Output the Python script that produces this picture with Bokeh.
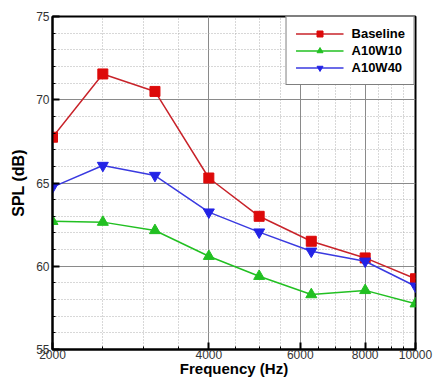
from bokeh.plotting import figure
from bokeh.models import FixedTicker, Legend, LegendItem, Range1d
from bokeh.embed import file_html
from bokeh.resources import INLINE

freq = [2000, 2500, 3150, 4000, 5000, 6300, 8000, 10000]
baseline = [67.75, 71.55, 70.5, 65.3, 63.0, 61.5, 60.5, 59.25]
a10w10 = [62.7, 62.65, 62.15, 60.6, 59.4, 58.3, 58.55, 57.75]
a10w40 = [64.75, 66.05, 65.45, 63.25, 62.05, 60.9, 60.3, 58.8]

x_ticks = [2000, 4000, 6000, 8000, 10000]
x_minor = [2500, 3000, 3500, 4500, 5000, 5500, 6500, 7000, 7500, 8500, 9000, 9500]
y_ticks = [55, 60, 65, 70, 75]
y_minor = [v for v in range(56, 75) if v % 5 != 0]

FONT = "Liberation Sans"

p = figure(width=433, height=379, x_axis_type="log",
           x_range=Range1d(2000, 10000), y_range=Range1d(55, 75),
           output_backend="svg", toolbar_location=None,
           min_border_left=52, min_border_right=18, min_border_top=16, min_border_bottom=28)
p.background_fill_color = "white"
p.border_fill_color = "white"
p.outline_line_color = "black"
p.outline_line_width = 2

p.xaxis.ticker = FixedTicker(ticks=x_ticks, minor_ticks=x_minor)
p.yaxis.ticker = FixedTicker(ticks=y_ticks, minor_ticks=y_minor)
p.xaxis.major_label_overrides = {t: str(t) for t in x_ticks}

for ax in (p.xaxis[0], p.yaxis[0]):
    ax.axis_line_color = "black"
    ax.axis_line_width = 2
    ax.major_tick_in = 7
    ax.major_tick_out = 0
    ax.minor_tick_in = 3
    ax.minor_tick_out = 0
    ax.major_tick_line_width = 2
    ax.major_tick_line_color = "black"
    ax.minor_tick_line_color = "black"
    ax.major_label_text_font = FONT
    ax.major_label_text_font_size = "12px"
    ax.major_label_text_color = "#333333"
    ax.axis_label_text_font = FONT
    ax.axis_label_text_font_style = "bold"
    ax.axis_label_text_color = "black"

p.xaxis.axis_label = "Frequency (Hz)"
p.yaxis.axis_label = "SPL (dB)"
p.xaxis.axis_label_text_font_size = "15px"
p.yaxis.axis_label_text_font_size = "16px"
p.xaxis.major_label_standoff = 0
p.xaxis.axis_label_standoff = -2
p.yaxis.major_label_standoff = 3
p.yaxis.axis_label_standoff = 6

for g in (p.xgrid[0], p.ygrid[0]):
    g.grid_line_color = "#8a8a8a"
    g.grid_line_width = 1
    g.minor_grid_line_color = "#b0b0b0"
    g.minor_grid_line_dash = "1 2"
    g.minor_grid_line_width = 1

series = [
    ("Baseline", baseline, "#c8232a", "#dd0a0a", "square", 10),
    ("A10W10", a10w10, "#22c022", "#22c022", "triangle", 11),
    ("A10W40", a10w40, "#3a3ae0", "#2323e6", "inverted_triangle", 11),
]
items = []
for label, ys, lc, mc, marker, size in series:
    l = p.line(freq, ys, line_color=lc, line_width=1.5)
    s = p.scatter(freq, ys, marker=marker, size=size, fill_color=mc, line_color=mc)
    items.append(LegendItem(label=label, renderers=[l, s]))

legend = Legend(items=items, location="top_right")
legend.margin = 0
legend.padding = 9
legend.spacing = 2
legend.glyph_width = 48
legend.glyph_height = 15
legend.label_height = 15
legend.label_standoff = 8
legend.label_text_font = FONT
legend.label_text_font_style = "bold"
legend.label_text_font_size = "13px"
legend.label_text_color = "black"
legend.border_line_color = "black"
legend.border_line_width = 1
legend.background_fill_alpha = 1
p.add_layout(legend, "center")

open("out.html", "w").write(file_html(p, INLINE))
